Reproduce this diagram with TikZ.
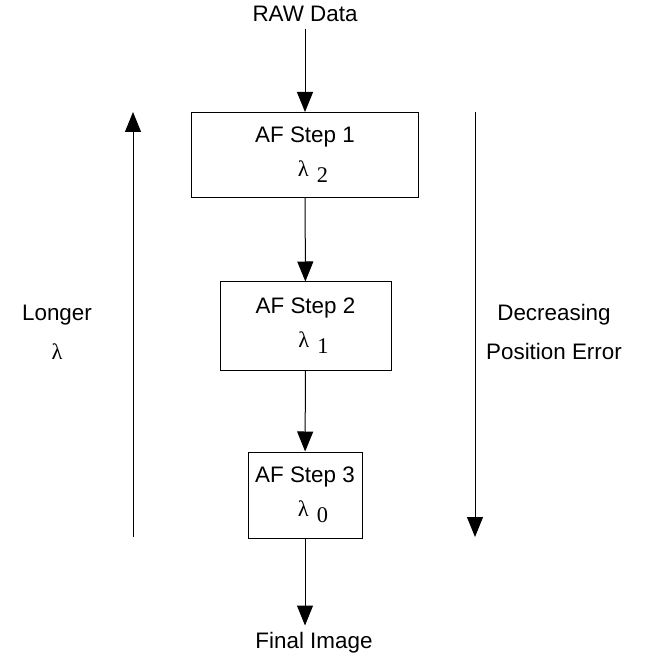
\documentclass[tikz,border=0pt]{standalone}
\usepackage{fontspec}
\setmainfont{Liberation Sans}
\newfontfamily\greekfont{Liberation Serif}
\usetikzlibrary{arrows.meta}
\newcommand{\lamsub}[1]{\hspace*{8pt}{\greekfont λ\hspace{4pt}\raisebox{-3pt}{#1}}}

\begin{document}
\begin{tikzpicture}[x=0.5pt,y=-0.5pt,
		every node/.style={font=\fontsize{11.2}{17}\selectfont},
		afbox/.style={draw,line width=0.5pt,align=center,inner sep=0pt},
		flow/.style={line width=0.5pt,-{Triangle[length=10pt,width=8pt]}}]
		\useasboundingbox (0,0) rectangle (652,657);
		% main chain
		\node (raw) at (305,14) {RAW Data};
		\node[afbox,minimum width=113.5pt,minimum height=42.5pt] (s1) at (305,155) {AF Step 1\\ \lamsub{2}};
		\node[afbox,minimum width=85.5pt,minimum height=44pt] (s2) at (305.5,326) {AF Step 2\\ \lamsub{1}};
		\node[afbox,minimum width=57pt,minimum height=43pt] (s3) at (305,495) {AF Step 3\\ \lamsub{0}};
		\node (final) at (314,643) {Final Image};
		\draw[flow] (raw) -- (s1);
		\draw[flow] (s1) -- (s2);
		\draw[flow] (s2) -- (s3);
		\draw[flow] (s3.south) -- (s3.south |- final.north);
		% side arrows
		\coordinate (lbot) at (133,537);
		\coordinate (ltop) at (133,112);
		\coordinate (rtop) at (475,112);
		\coordinate (rbot) at (475,537);
		\draw[flow] (lbot) -- (ltop);
		\draw[flow] (rtop) -- (rbot);
		\node[align=center,font=\fontsize{11.2}{19.5}\selectfont] (longer) at (57,332) {Longer\\ {\greekfont λ}};
		\node[align=center,font=\fontsize{11.2}{19.5}\selectfont] (decr) at (554,332) {Decreasing\\ Position Error};
	\end{tikzpicture}
\end{document}
